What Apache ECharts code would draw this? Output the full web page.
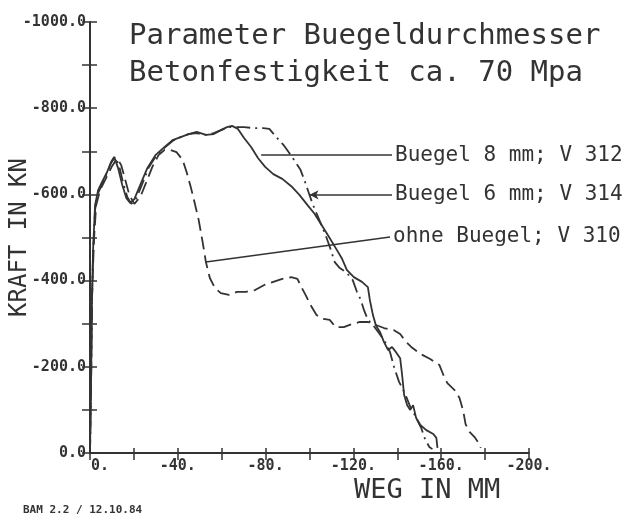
<!DOCTYPE html>
<html>
<head>
<meta charset="utf-8">
<script src="https://cdn.jsdelivr.net/npm/echarts@6/dist/echarts.min.js"></script>
<style>
  html, body { margin: 0; padding: 0; background: #fff; }
  #chart { width: 631px; height: 517px; }
</style>
</head>
<body>
<div id="chart"></div>
<script>
// Buegel 8 mm; V 312 (solid)
const weg312 = [0, -0.5, -0.9, -1.4, -2.3, -3.7, -5.5, -7.8, -9.6, -11.0, -12.8, -14.7, -16.5, -18.3, -20.2,
  -22.9, -26.1, -29.8, -33.5, -37.6, -41.3, -44.9, -48.6, -52.8, -56.4, -59.6, -62.4, -64.7, -67.4, -70.2,
  -73.4, -76.6, -79.8, -83.5, -87.6, -91.7, -95.4, -99.1, -102.3, -105.5, -108.7, -111.9, -114.7, -117.0,
  -120.2, -123.9, -126.6, -127.5, -128.9, -130.3, -132.1, -133.9, -135.8, -137.6, -139.4, -141.3, -142.2,
  -143.1, -144.5, -145.9, -147.2, -148.6, -150.5, -153.2, -156.4, -157.8, -158.3]
const kraft312 = [0, -169, -355, -471, -575, -610, -629, -652, -675, -687, -661, -622, -592, -580, -589,
  -622, -661, -691, -708, -726, -733, -740, -745, -738, -740, -749, -756, -759, -752, -731,
  -710, -684, -664, -647, -636, -619, -599, -575, -555, -529, -503, -476, -452, -425,
  -408, -397, -385, -355, -320, -295, -281, -258, -239, -246, -234, -220, -181,
  -135, -111, -100, -111, -81, -65, -53, -44, -35, -12]

// Buegel 6 mm; V 314 (dash-dot)
const weg314 = [0, -0.5, -0.9, -1.4, -2.3, -3.7, -5.5, -7.8, -9.6, -11.5, -13.3, -15.1, -17.0, -18.8, -20.6,
  -23.4, -26.6, -30.3, -33.9, -37.6, -41.3, -44.9, -48.6, -52.8, -56.4, -59.6, -63.3, -67.0, -70.2, -74.3,
  -78.9, -81.7, -84.9, -88.1, -90.8, -93.6, -95.9, -97.7, -99.5, -101.4, -103.7, -106.0, -107.8, -109.6,
  -111.5, -113.8, -117.0, -119.7, -121.6, -123.4, -124.8, -126.6, -128.9, -131.7, -134.4, -136.7, -138.5,
  -140.8, -143.6, -145.9, -148.2, -150.9, -152.8, -154.6, -156.0]
const kraft314 = [0, -169, -355, -459, -564, -603, -624, -650, -673, -687, -666, -626, -594, -578, -585,
  -619, -661, -691, -708, -724, -733, -740, -742, -738, -742, -749, -756, -756, -756, -754,
  -754, -752, -733, -715, -696, -675, -657, -633, -606, -578, -550, -522, -499, -473,
  -443, -429, -418, -401, -374, -355, -332, -309, -297, -278, -258, -234, -200,
  -165, -137, -107, -86, -58, -30, -14, -9]

// ohne Buegel; V 310 (dashed)
const weg310 = [0, -0.5, -0.9, -1.8, -2.8, -4.6, -7.3, -10.1, -12.4, -14.2, -16.1, -17.9, -20.2, -22.9, -25.7,
  -28.4, -31.2, -33.9, -36.7, -39.4, -42.2, -44.0, -45.9, -47.7, -49.5, -51.4, -52.8, -54.6, -56.9, -59.6,
  -63.3, -67.0, -71.1, -75.2, -79.4, -83.5, -87.6, -91.7, -94.5, -96.3, -98.2, -100.5, -103.2, -106.4,
  -109.2, -111.9, -115.6, -119.3, -122.9, -126.6, -130.3, -133.9, -138.5, -141.3, -144.0, -146.8, -150.5,
  -155.0, -159.2, -161.0, -162.8, -166.1, -168.3, -169.3, -170.2, -171.1, -172.9, -175.2, -177.1, -178.0]
const kraft310 = [0, -169, -355, -494, -575, -610, -638, -666, -684, -668, -633, -599, -578, -594, -629,
  -664, -691, -703, -703, -698, -680, -652, -617, -580, -541, -487, -443, -406, -383, -371,
  -367, -374, -374, -378, -390, -397, -404, -408, -404, -385, -367, -343, -320, -311,
  -309, -292, -292, -299, -304, -304, -297, -290, -285, -276, -258, -244, -230,
  -218, -204, -181, -162, -146, -128, -111, -93, -67, -49, -37, -23, -12]

const seriesNames = ['Buegel 8 mm; V 312', 'Buegel 6 mm; V 314', 'ohne Buegel; V 310']
const xTickValues = [-200, -160, -120, -80, -40, 0]
const xTickLabels = ['-200.', '-160.', '-120.', '-80.', '-40.', '0.']
const yTickValues = [-1000, -800, -600, -400, -200, 0]
const yTickLabels = ['-1000.0', '-800.0', '-600.0', '-400.0', '-200.0', '0.0']

// leader lines: [start, end] in data units (weg, kraft)
const leader312 = [[-78.0, -691], [-137.6, -691]]
const leader314 = [[-100.0, -599], [-137.6, -599]]
const leader310 = [[-52.8, -443], [-136.7, -501]]

const ink = '#333'
const mono = 'DejaVu Sans Mono'

function zip(xs, ys) {
  return xs.map((x, i) => [x, ys[i]])
}

function tickLabel(values, labels) {
  return function(v) {
    const i = values.indexOf(Math.round(v))
    if (i < 0) return ''
    // the origin label sits right of its tick in the original plot
    return Math.round(v) === 0 && labels === xTickLabels ? '{z|' + labels[i] + '}' : labels[i]
  }
}

function leader(coords, name, arrow) {
  return {
    silent: true,
    animation: false,
    symbol: [arrow ? 'arrow' : 'none', 'none'],
    symbolSize: [7, 9],
    lineStyle: { color: ink, width: 1.6, type: 'solid' },
    label: {
      show: true,
      position: 'end',
      distance: 3,
      formatter: name,
      color: ink,
      fontFamily: mono,
      fontSize: 21
    },
    data: [[{ coord: coords[0] }, { coord: coords[1] }]]
  }
}

const chart = echarts.init(document.getElementById('chart'))

const xBase = {
  type: 'value',
  min: -200,
  max: 0,
  interval: 40,
  inverse: true,
  splitLine: { show: false }
}
const yBase = {
  type: 'value',
  min: -1000,
  max: 0,
  interval: 200,
  inverse: true,
  splitLine: { show: false }
}

chart.setOption({
  animation: false,
  backgroundColor: '#fff',
  title: [{
    text: 'Parameter Buegeldurchmesser\nBetonfestigkeit ca. 70 Mpa',
    left: 124,
    top: 13,
    textStyle: { color: ink, fontFamily: mono, fontWeight: 'normal', fontSize: 29, lineHeight: 37 }
  }, {
    text: 'BAM 2.2 / 12.10.84',
    left: 18,
    top: 500,
    textStyle: { color: ink, fontFamily: mono, fontWeight: 'bold', fontSize: 11 }
  }],
  graphic: [{
    type: 'text',
    left: 354,
    top: 477,
    style: { text: 'WEG IN MM', fill: ink, font: '27px "DejaVu Sans Mono"' }
  }],
  grid: { left: 90, right: 102, top: 22, bottom: 64, containLabel: false, outerBoundsMode: 'none' },
  xAxis: [Object.assign({}, xBase, {
    position: 'bottom',
    axisLine: { onZero: false, lineStyle: { color: ink, width: 2 } },
    axisTick: { length: 7, lineStyle: { color: ink, width: 1.5 } },
    minorTick: { show: true, splitNumber: 2, length: 7, lineStyle: { color: ink, width: 1.5 } },
    axisLabel: {
      margin: 6,
      color: ink,
      fontFamily: mono,
      fontWeight: 'bold',
      fontSize: 15,
      formatter: tickLabel(xTickValues, xTickLabels),
      rich: { z: { fontFamily: mono, fontWeight: 'bold', fontSize: 15, color: ink, padding: [0, 0, 0, 20] } }
    }
  }), Object.assign({}, xBase, {
    position: 'bottom',
    axisLine: { show: false, onZero: false },
    axisTick: { inside: true, length: 5, lineStyle: { color: ink, width: 1.5 } },
    minorTick: { show: true, splitNumber: 2, length: 5, lineStyle: { color: ink, width: 1.5 } },
    axisLabel: { show: false }
  })],
  yAxis: [Object.assign({}, yBase, {
    position: 'left',
    name: 'KRAFT IN KN',
    nameLocation: 'middle',
    nameGap: 58,
    nameMoveOverlap: false,
    nameTextStyle: { color: ink, fontFamily: mono, fontSize: 24 },
    axisLine: { onZero: false, lineStyle: { color: ink, width: 2 } },
    axisTick: { length: 8, lineStyle: { color: ink, width: 1.5 } },
    minorTick: { show: true, splitNumber: 2, length: 8, lineStyle: { color: ink, width: 1.5 } },
    axisLabel: {
      margin: 4,
      color: ink,
      fontFamily: mono,
      fontWeight: 'bold',
      fontSize: 15,
      formatter: tickLabel(yTickValues, yTickLabels)
    }
  }), Object.assign({}, yBase, {
    position: 'left',
    axisLine: { show: false, onZero: false },
    axisTick: { inside: true, length: 7, lineStyle: { color: ink, width: 1.5 } },
    minorTick: { show: true, splitNumber: 2, length: 7, lineStyle: { color: ink, width: 1.5 } },
    axisLabel: { show: false }
  })],
  series: [{
    name: seriesNames[0],
    type: 'line',
    showSymbol: false,
    data: zip(weg312, kraft312),
    lineStyle: { color: ink, width: 1.8, type: 'solid' },
    markLine: leader(leader312, seriesNames[0], false)
  }, {
    name: seriesNames[1],
    type: 'line',
    showSymbol: false,
    data: zip(weg314, kraft314),
    lineStyle: { color: ink, width: 1.8, type: [14, 5, 2, 5] },
    markLine: leader(leader314, seriesNames[1], true)
  }, {
    name: seriesNames[2],
    type: 'line',
    showSymbol: false,
    data: zip(weg310, kraft310),
    lineStyle: { color: ink, width: 1.8, type: [13, 6] },
    markLine: leader(leader310, seriesNames[2], false)
  }]
})
</script>
</body>
</html>
